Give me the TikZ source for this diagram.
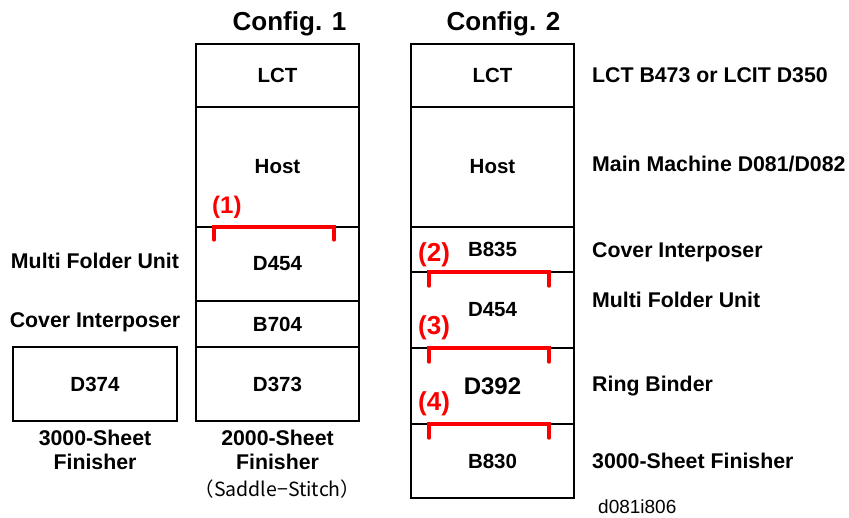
\documentclass[tikz,border=0pt]{standalone}
\usepackage{fontspec}
\setmainfont{Liberation Sans}
\newfontfamily\cjk{Noto Sans CJK JP}
\usetikzlibrary{positioning}
\definecolor{tagred}{RGB}{250,0,0}
\tikzset{
  unit/.style={draw, line width=1.4pt, minimum width=163pt, outer sep=0pt, inner sep=0pt, font=\fontsize{20.5}{24}\selectfont\bfseries},
  side/.style={inner sep=0pt, font=\fontsize{21.3}{24}\selectfont\bfseries},
  title/.style={inner sep=0pt, font=\fontsize{26}{30}\selectfont\bfseries},
  brk/.style={tagred, line width=3.5pt, line cap=round},
  tag/.style={tagred, inner sep=0pt, anchor=south west, font=\fontsize{26}{30}\selectfont\bfseries}
}
\begin{document}
\begin{tikzpicture}[x=1pt,y=-1pt]
    \useasboundingbox (0,0) rectangle (849,518);
    % Config. 1
    \node[unit, minimum height=63pt] (lct1) at (277.5,75.5) {LCT};
    \node[unit, minimum height=120pt, below=0pt of lct1] (host1) {Host};
    \node[unit, minimum height=74pt, below=0pt of host1] (fold1) {D454};
    \node[unit, minimum height=46pt, below=0pt of fold1] (cover1) {B704};
    \node[unit, minimum height=74pt, below=0pt of cover1] (fin1) {D373};
    \node[unit, minimum width=164pt, minimum height=74pt] (fin0) at (95,384) {D374};
    % Config. 2
    \node[unit, minimum height=63pt] (lct2) at (492.5,75.5) {LCT};
    \node[unit, minimum height=120pt, below=0pt of lct2] (host2) {Host};
    \node[unit, minimum height=45pt, below=0pt of host2] (cover2) {B835};
    \node[unit, minimum height=76pt, below=0pt of cover2] (fold2) {D454};
    \node[unit, minimum height=76pt, below=0pt of fold2, font=\fontsize{24}{28}\selectfont\bfseries] (ring2) {D392};
    \node[unit, minimum height=74pt, below=0pt of ring2] (fin2) {B830};
    \node[title, above=8pt of lct1, xshift=12pt] (t1) {Config. 1};
    \node[title, above=8pt of lct2, xshift=11pt] (t2) {Config. 2};
    % names on the right
    \node[side, right=18pt of lct2] (s1) {LCT B473 or LCIT D350};
    \node[side, right=18pt of host2, yshift=3pt] (s2) {Main Machine D081/D082};
    \node[side, right=18pt of cover2, yshift=-3pt] (s3) {Cover Interposer};
    \node[side, right=18pt of fold2, yshift=10pt] (s4) {Multi Folder Unit};
    \node[side, right=18pt of ring2] (s5) {Ring Binder};
    \node[side, right=18pt of fin2] (s6) {3000-Sheet Finisher};
    % names on the left
    \node[side, yshift=3pt] (l1) at (fin0 |- fold1) {Multi Folder Unit};
    \node[side, yshift=2pt] (l2) at (fin0 |- cover1) {Cover Interposer};
    \node[side, align=center, below=9pt of fin0] (n0) {3000-Sheet\\Finisher};
    \node[side, align=center, below=9pt of fin1] (n1) {2000-Sheet\\Finisher};
    \node[inner sep=0pt, below=10pt of n1, font=\cjk\fontsize{19.5}{22}\selectfont] (n2) {（Saddle−Stitch）};
    \node[inner sep=0pt, anchor=west, font=\fontsize{19}{22}\selectfont] (code) at (598,507) {d081i806};
    % red brackets
    \draw[brk, line width=3.2pt] (host1.south west) ++(18,13) -- ++(0,-13) -- ++(120,0) -- ++(0,13);
    \node[tag, font=\fontsize{24}{28}\selectfont\bfseries] (tag1) at ([xshift=16pt,yshift=8pt]host1.south west) {(1)};
    \foreach \n/\b/\dy in {2/cover2/5,3/fold2/8,4/ring2/8}{
        \draw[brk] (\b.south west) ++(18,14) -- ++(0,-14) -- ++(120,0) -- ++(0,14);
        \node[tag] (tag\n) at ([xshift=7pt,yshift=\dy pt]\b.south west) {(\n)};
    }
\end{tikzpicture}
\end{document}
